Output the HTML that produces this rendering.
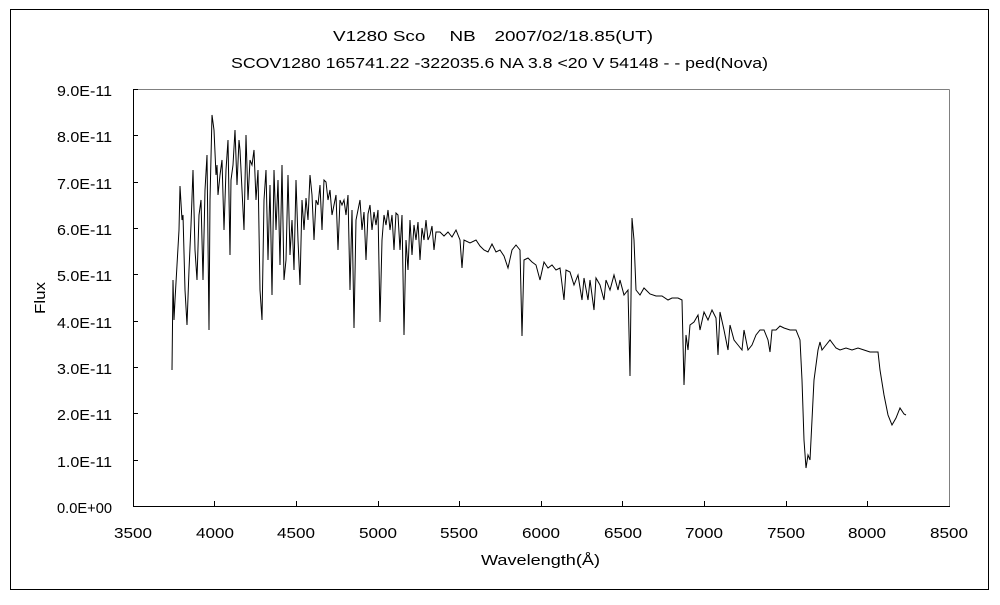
<!DOCTYPE html>
<html><head><meta charset="utf-8"><style>body{margin:0;background:#fff}</style></head><body>
<svg width="1000" height="600" xmlns="http://www.w3.org/2000/svg" font-family="Liberation Sans, Noto Sans CJK JP, sans-serif" font-size="15" fill="#000">
<rect x="0" y="0" width="1000" height="600" fill="#fff"/>
<rect x="10.5" y="9.5" width="978" height="580" fill="none" stroke="#000" stroke-width="1"/>
<text x="333" y="41" textLength="320" lengthAdjust="spacingAndGlyphs">V1280 Sco　 NB　2007/02/18.85(UT)</text>
<text x="231" y="68" textLength="537" lengthAdjust="spacingAndGlyphs">SCOV1280 165741.22 -322035.6 NA 3.8 &lt;20 V 54148 - - ped(Nova)</text>
<line x1="133.5" y1="89.5" x2="949.5" y2="89.5" stroke="#808080"/>
<line x1="949.5" y1="89.5" x2="949.5" y2="506.5" stroke="#808080"/>
<line x1="133.5" y1="89" x2="133.5" y2="507" stroke="#000"/>
<line x1="133" y1="506.5" x2="950" y2="506.5" stroke="#000"/>
<g stroke="#000">
<line x1="133" y1="89.5" x2="138" y2="89.5"/><line x1="133" y1="135.5" x2="138" y2="135.5"/><line x1="133" y1="182.5" x2="138" y2="182.5"/><line x1="133" y1="228.5" x2="138" y2="228.5"/><line x1="133" y1="274.5" x2="138" y2="274.5"/><line x1="133" y1="321.5" x2="138" y2="321.5"/><line x1="133" y1="367.5" x2="138" y2="367.5"/><line x1="133" y1="413.5" x2="138" y2="413.5"/><line x1="133" y1="460.5" x2="138" y2="460.5"/>
<line x1="214.5" y1="501" x2="214.5" y2="506"/><line x1="296.5" y1="501" x2="296.5" y2="506"/><line x1="378.5" y1="501" x2="378.5" y2="506"/><line x1="459.5" y1="501" x2="459.5" y2="506"/><line x1="541.5" y1="501" x2="541.5" y2="506"/><line x1="622.5" y1="501" x2="622.5" y2="506"/><line x1="704.5" y1="501" x2="704.5" y2="506"/><line x1="786.5" y1="501" x2="786.5" y2="506"/><line x1="867.5" y1="501" x2="867.5" y2="506"/>
</g>
<g>
<text x="57" y="96" textLength="55" lengthAdjust="spacingAndGlyphs">9.0E-11</text>
<text x="57" y="142" textLength="55" lengthAdjust="spacingAndGlyphs">8.0E-11</text>
<text x="57" y="189" textLength="55" lengthAdjust="spacingAndGlyphs">7.0E-11</text>
<text x="57" y="235" textLength="55" lengthAdjust="spacingAndGlyphs">6.0E-11</text>
<text x="57" y="281" textLength="55" lengthAdjust="spacingAndGlyphs">5.0E-11</text>
<text x="57" y="328" textLength="55" lengthAdjust="spacingAndGlyphs">4.0E-11</text>
<text x="57" y="374" textLength="55" lengthAdjust="spacingAndGlyphs">3.0E-11</text>
<text x="57" y="420" textLength="55" lengthAdjust="spacingAndGlyphs">2.0E-11</text>
<text x="57" y="467" textLength="55" lengthAdjust="spacingAndGlyphs">1.0E-11</text>
<text x="57" y="513" textLength="55" lengthAdjust="spacingAndGlyphs">0.0E+00</text>
</g>
<g>
<text x="114" y="538" textLength="38" lengthAdjust="spacingAndGlyphs">3500</text>
<text x="196" y="538" textLength="38" lengthAdjust="spacingAndGlyphs">4000</text>
<text x="277" y="538" textLength="38" lengthAdjust="spacingAndGlyphs">4500</text>
<text x="359" y="538" textLength="38" lengthAdjust="spacingAndGlyphs">5000</text>
<text x="440" y="538" textLength="38" lengthAdjust="spacingAndGlyphs">5500</text>
<text x="522" y="538" textLength="38" lengthAdjust="spacingAndGlyphs">6000</text>
<text x="604" y="538" textLength="38" lengthAdjust="spacingAndGlyphs">6500</text>
<text x="685" y="538" textLength="38" lengthAdjust="spacingAndGlyphs">7000</text>
<text x="767" y="538" textLength="38" lengthAdjust="spacingAndGlyphs">7500</text>
<text x="848" y="538" textLength="38" lengthAdjust="spacingAndGlyphs">8000</text>
<text x="930" y="538" textLength="38" lengthAdjust="spacingAndGlyphs">8500</text>
<text x="481" y="565" textLength="119" lengthAdjust="spacingAndGlyphs">Wavelength(Å)</text>
<text transform="translate(45,314) rotate(-90)" textLength="32" lengthAdjust="spacingAndGlyphs">Flux</text>
</g>
<polyline fill="none" stroke="#000" stroke-width="1" points="172,370 173,280 174,320 175,300 177,265 179,230 180,186 182,220 183,215 185,290 187,325 189,270 191,225 193,170 195,250 197,280 199,215 201,200 203,280 205,190 207,155 209,330 210,200 212,115 214,130 216,175 217,165 218,195 220,175 222,160 224,230 226,170 228,140 230,255 231,180 233,165 235,130 237,185 239,140 240,150 242,190 244,230 246,135 248,200 250,160 252,165 254,150 256,200 258,170 260,290 262,320 264,200 266,170 268,260 270,185 272,295 274,170 276,230 278,180 280,265 282,165 284,280 286,260 288,175 290,255 292,220 294,270 296,180 298,240 300,285 302,200 304,230 306,198 308,220 310,175 312,195 314,240 316,200 318,205 320,185 322,230 324,180 326,182 328,200 330,190 332,215 334,205 336,195 338,250 340,200 342,205 344,200 346,215 348,195 350,290 352,210 354,328 356,220 358,210 360,200 362,230 364,212 366,260 368,214 370,205 372,230 374,212 376,225 378,210 380,322 382,240 384,215 386,225 388,210 390,230 392,215 394,250 396,213 398,215 400,250 402,215 404,335 406,240 408,270 410,220 412,255 414,225 416,240 418,222 420,260 422,228 424,240 426,220 428,240 430,235 432,226 434,250 436,232 440,232 444,236 448,232 452,237 456,230 460,240 462,268 464,240 470,243 476,240 480,246 484,250 488,252 492,244 496,252 500,250 504,256 508,268 512,250 516,245 520,250 522,336 524,260 528,258 532,262 536,265 540,280 544,262 548,268 552,265 556,270 560,268 564,300 566,270 570,272 574,285 578,275 582,300 584,278 588,300 590,280 594,310 596,278 600,285 604,300 606,280 610,290 614,275 618,290 620,280 624,295 628,290 630,376 632,218 634,240 636,290 640,295 644,288 650,294 656,296 662,296 668,300 672,298 678,298 682,300 684,385 686,335 688,350 690,325 694,322 698,315 700,330 704,312 708,320 712,310 716,318 718,355 720,312 724,330 728,350 730,325 734,340 738,345 742,350 744,330 748,350 752,345 756,335 760,330 764,330 768,340 770,352 772,330 776,330 780,326 784,328 790,330 796,330 800,340 802,380 804,440 806,468 808,455 810,460 812,420 814,380 818,350 820,342 822,350 826,345 830,340 836,348 840,350 846,348 852,350 858,348 864,350 870,352 874,352 878,352 880,370 884,395 888,415 892,425 896,418 900,408 904,414 906,415"/>
</svg>
</body></html>
